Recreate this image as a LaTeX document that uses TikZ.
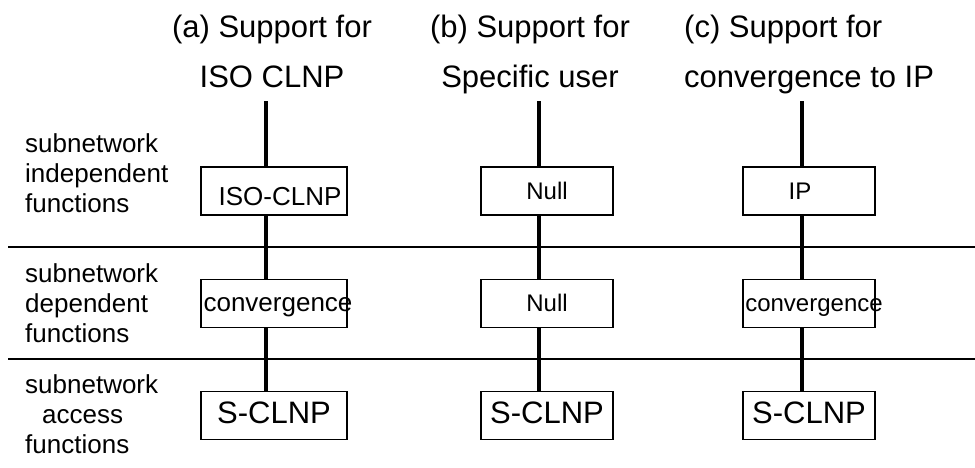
\documentclass[tikz,border=0pt]{standalone}
\usepackage{fontspec}
\setmainfont{Liberation Sans}
\begin{document}
\begin{tikzpicture}[
            x=1pt,y=-1pt,
            every node/.style={inner sep=0pt},
            layer/.style={draw,line width=1.6pt,fill=white,minimum height=48pt,text height=16pt,text depth=0pt},
            title/.style={font=\fontsize{31}{50}\selectfont,align=center,anchor=base},
            side/.style={font=\fontsize{26}{30}\selectfont,align=left,anchor=base west},
            stack/.style={line width=4pt}
            ]
            \useasboundingbox (0,0) rectangle (975,467);
            % titles
            \node[title] (ha) at (272,87) {(a) Support for\\ISO CLNP};
            \node[title] (hb) at (530,87) {(b) Support for\\Specific user};
            \node[title,align=left,anchor=base west] (hc) at (684,87) {(c) Support for\\convergence to IP};
            % row labels
            \node[side] (s1) at (25,212) {subnetwork\\independent\\functions};
            \node[side] (s2) at (25,342) {subnetwork\\dependent\\functions};
            \node[side] (s3) at (25,453) {subnetwork\\\hspace*{17pt}access\\functions};
            % separators
            \draw[line width=1.6pt] (8,247) -- (975,247);
            \draw[line width=1.6pt] (8,359) -- (975,359);
            % stacks
            \coordinate (ta) at (266,101);
            \coordinate (tb) at (539,101);
            \coordinate (tc) at (802,101);
            \node[layer,minimum width=146pt,font=\fontsize{26}{30}\selectfont,text height=28pt] (a1) at (274,191) {\makebox[0pt]{\kern12pt ISO-CLNP}};
            \node[layer,minimum width=146pt,font=\fontsize{26}{30}\selectfont] (a2) at (274,303.5) {\makebox[0pt]{\kern8pt convergence}};
            \node[layer,minimum width=146pt,font=\fontsize{31}{36}\selectfont] (a3) at (274,415.5) {S-CLNP};
            \node[layer,minimum width=132pt,font=\fontsize{24}{28}\selectfont] (b1) at (547,191) {Null};
            \node[layer,minimum width=132pt,font=\fontsize{24}{28}\selectfont] (b2) at (547,303.5) {Null};
            \node[layer,minimum width=132pt,font=\fontsize{31}{36}\selectfont] (b3) at (547,415.5) {S-CLNP};
            \node[layer,minimum width=132pt,font=\fontsize{24}{28}\selectfont] (c1) at (809,191) {\makebox[0pt]{\kern-18pt IP}};
            \node[layer,minimum width=132pt,font=\fontsize{24}{28}\selectfont] (c2) at (809,303.5) {\makebox[0pt]{\kern10pt convergence}};
            \node[layer,minimum width=132pt,font=\fontsize{31}{36}\selectfont] (c3) at (809,415.5) {S-CLNP};
            \foreach \s in {a,b,c} {
                \draw[stack] (t\s) -- (\s1.north -| t\s);
                \draw[stack] (\s1.south -| t\s) -- (\s2.north -| t\s);
                \draw[stack] (\s2.south -| t\s) -- (\s3.north -| t\s);
            }
        \end{tikzpicture}
\end{document}
